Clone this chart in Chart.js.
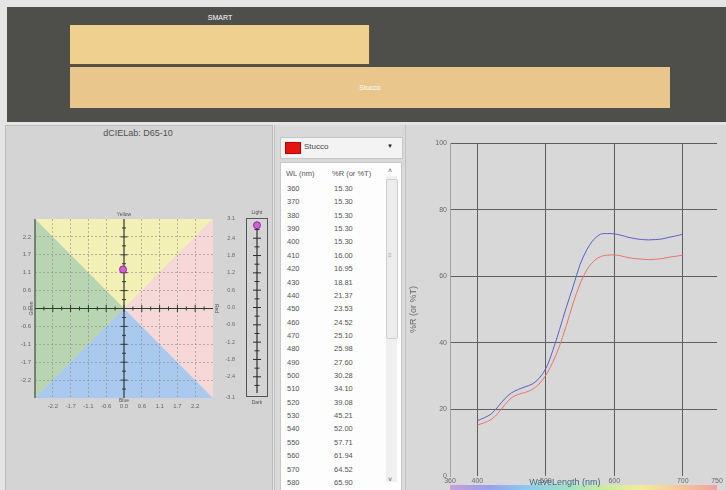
<!DOCTYPE html>
<html><head><meta charset="utf-8">
<script src="https://cdn.jsdelivr.net/npm/chart.js@4.4.0/dist/chart.umd.min.js"></script>
<style>
html,body{margin:0;padding:0}
body{width:726px;height:490px;background:#e4e4e4;font-family:"Liberation Sans",Arial,sans-serif;overflow:hidden;position:relative}
.abs{position:absolute}
#top{left:7px;top:7px;width:719px;height:115px;background:#4e4f4b}
#bar1{left:70px;top:25px;width:299px;height:39px;background:#efd08f;border-right:1px solid #6b5132;border-bottom:1px solid #6b5132}
#bar2{left:70px;top:67px;width:600px;height:41px;background:#e8c68c}
.swl{color:#fff;font-size:7px;transform:translateX(-50%)}
#left{left:5px;top:125px;width:266px;height:365px;background:#d4d4d4;border:1px solid #bcbcbc;border-bottom:none}
#ltitle{left:5px;top:128px;width:266px;text-align:center;font-size:9px;color:#505050}
#mid{left:274px;top:125px;width:131px;height:365px;background:#d9d9d9;border-left:1px solid #c4c4c4}
#drop{left:280px;top:137px;width:121px;height:20px;background:#f3f3f3;border:1px solid #c6c6c6}
#sw{left:285px;top:142px;width:14px;height:10px;background:#e4140e;border:1px solid #b00}
#dropt{left:304px;top:142px;font-size:8px;color:#4a4a4a}
#arr{left:387px;top:143px;font-size:6px;color:#222}
#tbl{left:280px;top:162px;width:120px;height:328px;background:#fdfdfd;border:1px solid #c8c8c8;border-bottom:none}
.cell{font-size:7.5px;color:#555;white-space:nowrap}
#track{left:386px;top:176px;width:11px;height:306px;background:#f0f0f0}
#thumb{left:386px;top:179px;width:10px;height:158px;background:#ececec;border:1px solid #cfcfcf;border-radius:2px}
#right{left:405px;top:125px;width:321px;height:365px;background:#d8d8d8;border-left:1px solid #c2c2c2}
canvas{position:absolute}
</style></head><body>
<div id="top" class="abs"></div>
<div id="bar1" class="abs"></div>
<div id="bar2" class="abs"></div>
<div class="abs swl" style="left:220px;top:14px">SMART</div>
<div class="abs swl" style="left:370px;top:84px">Stucco</div>

<div id="left" class="abs"></div>
<div id="ltitle" class="abs">dCIELab: D65-10</div>
<div id="mid" class="abs"></div>
<div id="drop" class="abs"></div>
<div id="sw" class="abs"></div>
<div id="dropt" class="abs">Stucco</div>
<div id="arr" class="abs">&#9660;</div>
<div id="tbl" class="abs"></div>
<div id="track" class="abs"></div>
<div id="thumb" class="abs"></div>
<div class="abs cell" style="left:388px;top:167px;font-size:7px">&#708;</div>
<div class="abs cell" style="left:388px;top:476px;font-size:7px">&#709;</div>
<div class="abs cell" style="left:388px;top:252px;font-size:6px;color:#aaa">&#8801;</div>
<div id="rows"></div>
<div id="right" class="abs"></div>

<canvas id="lab" width="267" height="225" style="left:5px;top:195px;width:267px;height:225px"></canvas>
<canvas id="light" width="55" height="215" style="left:225px;top:200px;width:55px;height:215px"></canvas>
<canvas id="spec" width="321" height="362" style="left:405px;top:128px;width:321px;height:362px"></canvas>

<script>
// ---------- data ----------
const wavelengths = [400,410,420,430,440,450,460,470,480,490,500,510,520,530,540,550,560,570,580,590,600,610,620,630,640,650,660,670,680,690,700];
const standardR = [16.6,17.5,18.6,20.8,23.2,25.0,26.0,26.8,27.6,29.3,32.3,37.6,44.0,50.7,57.0,63.5,68.0,71.0,72.6,72.8,72.7,72.3,71.7,71.3,71.0,70.9,71.0,71.2,71.7,72.1,72.6];
const sampleR   = [15.30,16.00,16.95,18.81,21.37,23.53,24.52,25.10,25.98,27.60,30.28,34.10,39.08,45.21,52.00,57.71,61.94,64.52,65.90,66.3,66.4,66.1,65.6,65.3,65.1,65.0,65.1,65.3,65.7,66.0,66.3];
const specXTicks = [360,400,500,600,700,750];
const specYTicks = [0,20,40,60,80,100];

const tableWL = [360,370,380,390,400,410,420,430,440,450,460,470,480,490,500,510,520,530,540,550,560,570,580];
const tableR  = ['15.30','15.30','15.30','15.30','15.30','16.00','16.95','18.81','21.37','23.53','24.52','25.10','25.98','27.60','30.28','34.10','39.08','45.21','52.00','57.71','61.94','64.52','65.90'];

const deltaA = [-0.03];
const deltaB = [1.2];
const deltaL = [2.85];
const abTickValues = [-2.2,-1.65,-1.1,-0.55,0,0.55,1.1,1.65,2.2];
const abTickLabels = ['-2.2','-1.7','-1.1','-0.6','0.0','0.6','1.1','1.7','2.2'];
const lTickValues = [-3.1,-2.4,-1.8,-1.2,-0.6,0,0.6,1.2,1.8,2.4,3.1];
const lTickLabels = ['-3.1','-2.4','-1.8','-1.2','-0.6','0.0','0.6','1.2','1.8','2.4','3.1'];

// ---------- table ----------
(function(){
  const rows = document.getElementById('rows');
  let h = '<div class="abs cell" style="left:286px;top:169px">WL (nm)</div><div class="abs cell" style="left:332px;top:169px">%R (or %T)</div>';
  tableWL.forEach((w,i)=>{
    const t = 184 + i*13.36;
    h += '<div class="abs cell" style="left:287px;top:'+t+'px">'+w+'</div><div class="abs cell" style="left:334px;top:'+t+'px">'+tableR[i]+'</div>';
  });
  rows.innerHTML = h;
})();

const FONT = '"Liberation Sans", Arial, sans-serif';
Chart.defaults.font.family = FONT;

// ---------- spectral chart ----------
const specDeco = {
  id:'specDeco',
  afterDraw(chart){
    const {ctx, chartArea:a} = chart;
    ctx.save();
    const g = ctx.createLinearGradient(a.left,0,a.right,0);
    const cols = ['#c9a0d8','#9aa0ec','#8cc8f0','#9fe0c8','#c8ec9c','#f2ec9c','#f6c89a','#f2a0a0'];
    cols.forEach((c,i)=>g.addColorStop(i/(cols.length-1),c));
    ctx.fillStyle = g;
    ctx.fillRect(a.left, a.bottom+9, a.right-a.left, 5);
    ctx.fillStyle = '#2f6b7c';
    ctx.font = '9px '+FONT;
    ctx.textAlign='center'; ctx.textBaseline='middle';
    ctx.fillText('WaveLength (nm)', a.left+(a.right-a.left)*0.43, a.bottom+7);
    ctx.restore();
  }
};
new Chart(document.getElementById('spec'), {
  type:'line',
  data:{datasets:[
    {label:'SMART', data:wavelengths.map((w,i)=>({x:w,y:standardR[i]})), borderColor:'#5a5ec6', borderWidth:1, pointRadius:0, tension:0.35, fill:false},
    {label:'Stucco', data:wavelengths.map((w,i)=>({x:w,y:sampleR[i]})), borderColor:'#e8726c', borderWidth:1, pointRadius:0, tension:0.35, fill:false}
  ]},
  options:{
    responsive:false, animation:false, maintainAspectRatio:false,
    layout:{padding:{top:15,right:9,left:0,bottom:0}},
    plugins:{legend:{display:false}, tooltip:{enabled:false}},
    scales:{
      x:{type:'linear', min:360, max:750,
        afterBuildTicks:s=>{s.ticks = specXTicks.map(v=>({value:v}));},
        afterFit:s=>{s.height=14;},
        grid:{color:c=>(c.tick && c.tick.value>360 && c.tick.value<750)?'#5e5e5e':'rgba(0,0,0,0)', drawTicks:false, lineWidth:1},
        border:{display:false},
        ticks:{padding:1, font:{size:7}, color:'#6a6a6a', maxRotation:0, autoSkip:false}
      },
      y:{min:0, max:100,
        afterBuildTicks:s=>{s.ticks = specYTicks.map(v=>({value:v}));},
        afterFit:s=>{s.width=45;},
        grid:{color:c=>(c.tick && c.tick.value>0)?'#5e5e5e':'rgba(0,0,0,0)', drawTicks:false},
        border:{color:'#a0a0a0'},
        ticks:{padding:3, font:{size:7}, color:'#6a6a6a'},
        title:{display:true, text:'%R (or %T)', font:{size:9}, color:'#6a6a6a', padding:{top:3,bottom:0}}
      }
    }
  },
  plugins:[specDeco]
});

// ---------- a*b* chart ----------
const labBg = {
  id:'labBg',
  beforeDraw(chart){
    const {ctx, scales:{x,y}} = chart;
    const L=x.getPixelForValue(x.min), R=x.getPixelForValue(x.max), T=y.getPixelForValue(y.max), B=y.getPixelForValue(y.min);
    const cx=x.getPixelForValue(0), cy=y.getPixelForValue(0);
    const tri=(pts,col)=>{ctx.beginPath();ctx.moveTo(pts[0][0],pts[0][1]);pts.slice(1).forEach(p=>ctx.lineTo(p[0],p[1]));ctx.closePath();ctx.fillStyle=col;ctx.fill();};
    ctx.save();
    tri([[L,T],[R,T],[cx,cy]],'#f3f0b6');
    tri([[L,T],[L,B],[cx,cy]],'#b8d5b2');
    tri([[L,B],[R,B],[cx,cy]],'#a9c9ef');
    tri([[R,T],[R,B],[cx,cy]],'#f5d8d7');
    ctx.restore();
  },
  beforeDatasetsDraw(chart){
    const {ctx, scales:{x,y}} = chart;
    const L=x.getPixelForValue(x.min), R=x.getPixelForValue(x.max), T=y.getPixelForValue(y.max), B=y.getPixelForValue(y.min);
    const cx=x.getPixelForValue(0), cy=y.getPixelForValue(0);
    ctx.save();
    ctx.setLineDash([]);
    ctx.strokeStyle='#2f3a2f'; ctx.lineWidth=1.2;
    ctx.beginPath(); ctx.moveTo(L,cy); ctx.lineTo(R,cy); ctx.moveTo(cx,T); ctx.lineTo(cx,B); ctx.stroke();
    ctx.lineWidth=1;
    for(let v=-2.475; v<=2.5; v+=0.275){
      const big = Math.abs(Math.round(v/0.275))%2===0;
      const h = big?3.5:2;
      const px=x.getPixelForValue(v), py=y.getPixelForValue(v);
      ctx.beginPath(); ctx.moveTo(px,cy-h); ctx.lineTo(px,cy+h); ctx.moveTo(cx-h,py); ctx.lineTo(cx+h,py); ctx.stroke();
    }
    ctx.strokeStyle='#3d4a3d'; ctx.lineWidth=1.2;
    ctx.beginPath(); ctx.moveTo(L,T); ctx.lineTo(L,B); ctx.stroke();
    ctx.restore();
  },
  afterDraw(chart){
    const {ctx, chartArea:a, scales:{x,y}} = chart;
    const cx=x.getPixelForValue(0), cy=y.getPixelForValue(0);
    ctx.save();
    ctx.fillStyle='#555'; ctx.font='5px '+FONT; ctx.textAlign='center'; ctx.textBaseline='middle';
    ctx.fillText('Yellow', cx, a.top-4);
    ctx.fillText('Blue', cx, a.bottom+3);
    ctx.save(); ctx.translate(a.left-3, cy); ctx.rotate(-Math.PI/2); ctx.fillText('Green',0,0); ctx.restore();
    ctx.save(); ctx.translate(a.right+3, cy); ctx.rotate(Math.PI/2); ctx.fillText('Red',0,0); ctx.restore();
    ctx.restore();
  }
};
const abGridColor = c=>(c.tick && c.tick.value!==0)?'rgba(140,140,140,0.6)':'rgba(0,0,0,0)';
new Chart(document.getElementById('lab'), {
  type:'scatter',
  data:{datasets:[{data:deltaA.map((a,i)=>({x:a,y:deltaB[i]})), pointRadius:3.5, backgroundColor:'#d460d6', borderColor:'#8a2a96', borderWidth:1}]},
  options:{
    responsive:false, animation:false,
    layout:{padding:{top:24,right:59,left:0,bottom:0}},
    plugins:{legend:{display:false}, tooltip:{enabled:false}},
    scales:{
      x:{type:'linear', min:-2.75, max:2.75,
        afterBuildTicks:s=>{s.ticks = abTickValues.map(v=>({value:v}));},
        afterFit:s=>{s.height=22;},
        grid:{color:abGridColor, drawTicks:false},
        border:{display:false, dash:[2,2]},
        ticks:{padding:5, font:{size:6}, color:'#666', maxRotation:0, autoSkip:false, callback:(v,i)=>abTickLabels[i]}
      },
      y:{type:'linear', min:-2.75, max:2.75,
        afterBuildTicks:s=>{s.ticks = abTickValues.map(v=>({value:v}));},
        afterFit:s=>{s.width=30;},
        grid:{color:abGridColor, drawTicks:false},
        border:{display:false, dash:[2,2]},
        ticks:{padding:4, font:{size:6}, color:'#666', autoSkip:false, callback:(v,i)=>abTickLabels[i]}
      }
    }
  },
  plugins:[labBg]
});

// ---------- lightness chart ----------
const lightDeco = {
  id:'lightDeco',
  beforeDatasetsDraw(chart){
    const {ctx, chartArea:a, scales:{x,y}} = chart;
    const cx=x.getPixelForValue(0);
    ctx.save();
    ctx.strokeStyle='#555'; ctx.lineWidth=1;
    ctx.strokeRect(a.left+0.5,a.top+0.5,a.right-a.left-1,a.bottom-a.top-1);
    ctx.strokeStyle='#2e2e2e'; ctx.lineWidth=1.2;
    ctx.beginPath(); ctx.moveTo(cx,a.top+4); ctx.lineTo(cx,a.bottom-4); ctx.stroke();
    ctx.lineWidth=1;
    for(let v=-2.7; v<=2.75; v+=0.3){
      const big = Math.abs(Math.round(v/0.3))%2===0;
      const h = big?4:2.5;
      const py=y.getPixelForValue(v);
      ctx.beginPath(); ctx.moveTo(cx-h,py); ctx.lineTo(cx+h,py); ctx.stroke();
    }
    ctx.fillStyle='#555'; ctx.font='5px '+FONT; ctx.textAlign='center'; ctx.textBaseline='middle';
    ctx.fillText('Light', cx, a.top-5);
    ctx.fillText('Dark', cx, a.bottom+6);
    ctx.restore();
  }
};
new Chart(document.getElementById('light'), {
  type:'scatter',
  data:{datasets:[{data:deltaL.map(l=>({x:0,y:l})), pointRadius:3.5, backgroundColor:'#d460d6', borderColor:'#8a2a96', borderWidth:1}]},
  options:{
    responsive:false, animation:false,
    layout:{padding:{top:18,right:12,left:0,bottom:0}},
    plugins:{legend:{display:false}, tooltip:{enabled:false}},
    scales:{
      x:{type:'linear', min:-1, max:1, display:true, afterFit:s=>{s.height=18;}, grid:{display:false}, border:{display:false}, ticks:{display:false}},
      y:{type:'linear', min:-3.1, max:3.1,
        afterBuildTicks:s=>{s.ticks = lTickValues.map(v=>({value:v}));},
        afterFit:s=>{s.width=21;},
        grid:{display:false}, border:{display:false},
        ticks:{padding:3, font:{size:5.5}, color:'#666', autoSkip:false, callback:(v,i)=>lTickLabels[i]}
      }
    }
  },
  plugins:[lightDeco]
});
</script>
</body></html>
